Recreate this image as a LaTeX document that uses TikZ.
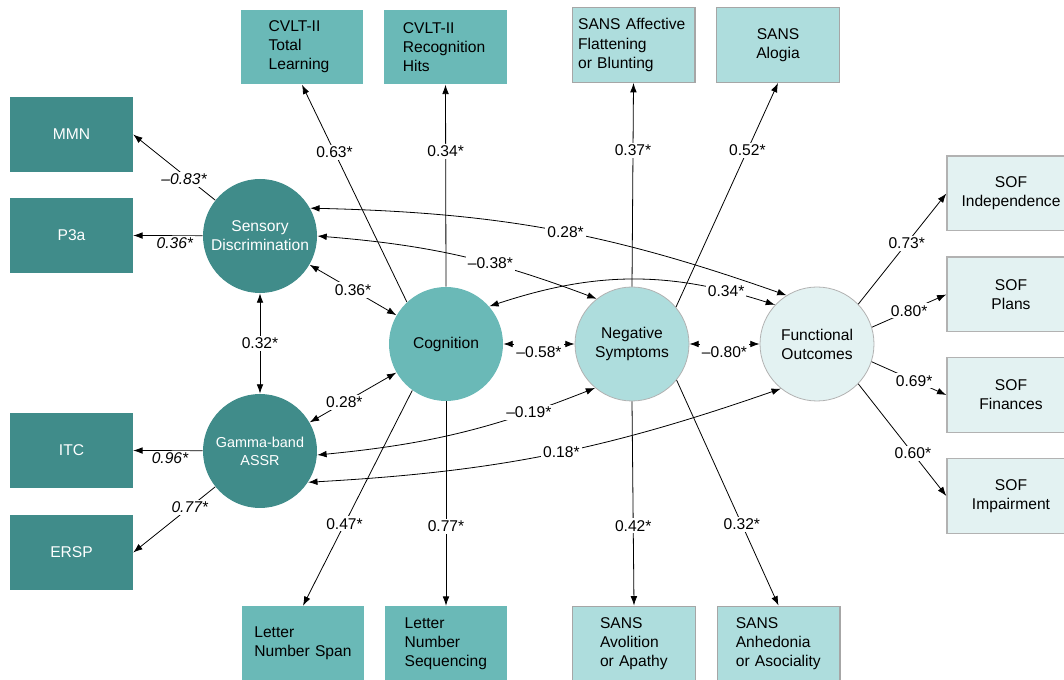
\documentclass[tikz,border=0pt]{standalone}
\usepackage{fontspec}
\setmainfont{Liberation Sans}
\usetikzlibrary{arrows.meta}

\definecolor{tealdark}{RGB}{64,140,138}
\definecolor{tealmid}{RGB}{106,185,183}
\definecolor{teallight}{RGB}{174,221,221}
\definecolor{tealpale}{RGB}{227,242,242}

\tikzset{
	txt/.style = {font = \fontsize{11.7}{14.3}\selectfont},
	box/.style = {txt, rectangle, minimum width = 92pt, minimum height = 56pt, inner sep = 0pt},
	boxdark/.style = {box, fill = tealdark, text = white},
	boxmid/.style = {box, fill = tealmid},
	boxlight/.style = {box, fill = teallight, draw = gray!70, line width = 1pt},
	boxpale/.style = {box, fill = tealpale, draw = gray!60, line width = 1pt, minimum width = 96pt},
	factor/.style = {txt, circle, minimum size = 85.5pt, inner sep = 0pt, align = center},
	lbl/.style = {txt, fill = white, inner sep = 1.5pt},
	lblit/.style = {lbl, font = \fontsize{11.7}{14.3}\selectfont\itshape}
}

\begin{document}
\begin{tikzpicture}[x = 0.75pt, y = -0.75pt, > = {Latex[length = 7pt, width = 5pt]}, line width = 0.6pt]

	\useasboundingbox (0, 0) rectangle (1064, 680);

	% Latent factors
	
	\node [factor, fill = tealdark, text = white] (sensory) at (260, 236) {Sensory\\Discrimination};
	\node [factor, fill = tealdark, text = white, font = \fontsize{10.8}{13.5}\selectfont] (gamma) at (260, 451) {Gamma-band\\ASSR};
	\node [factor, fill = tealmid] (cognition) at (446, 344) {Cognition};
	\node [factor, fill = teallight, draw = gray!60] (negative) at (632, 344) {Negative\\Symptoms};
	\node [factor, fill = tealpale, draw = gray!60] (functional) at (817, 344) {Functional\\Outcomes};
	
	% Indicators, left
	
	\node [boxdark] (mmn) at (71.5, 134.5) {MMN};
	\node [boxdark] (pthreea) at (71.5, 235.5) {P3a};
	\node [boxdark] (itc) at (71.5, 450.5) {ITC};
	\node [boxdark] (ersp) at (71.5, 552.5) {ERSP};
	
	% Indicators, top and bottom
	
	\node [boxmid, text width = 50pt, align = left] (cvltTL) at (302, 47) {CVLT-II\\Total\\Learning};
	\node [boxmid, text width = 64pt, align = left] (cvltRH) at (445.5, 47) {CVLT-II\\Recognition\\Hits};
	\node [boxlight, text width = 83pt, align = left] (sansAF) at (633.5, 45) {SANS Affective\\Flattening\\or Blunting};
	\node [boxlight, align = center] (sansAL) at (778, 45) {SANS\\Alogia};
	
	\node [boxmid, text width = 73pt, align = left] (lns) at (303, 643.5) {Letter\\Number Span};
	\node [boxmid, text width = 62pt, align = left] (lnsq) at (446, 643.5) {Letter\\Number\\Sequencing};
	\node [boxlight, text width = 51pt, align = left] (sansAV) at (634, 643.5) {SANS\\Avolition\\or Apathy};
	\node [boxlight, text width = 64pt, align = left] (sansAN) at (778.5, 643.5) {SANS\\Anhedonia\\or Asociality};
	
	% Indicators, right
	
	\node [boxpale, align = center] (sofInd) at (1011, 193.5) {SOF\\Independence};
	\node [boxpale, align = center] (sofPla) at (1011, 294.5) {SOF\\Plans};
	\node [boxpale, align = center] (sofFin) at (1011, 395) {SOF\\Finances};
	\node [boxpale, align = center] (sofImp) at (1011, 496) {SOF\\Impairment};
	
	% Loadings
	
	\draw [->] (sensory) -- node [lblit, pos = 0.38, yshift = -3pt] {–0.83*} (mmn.east);
	\draw [->] (sensory) -- node [lblit, pos = 0.4, below] {0.36*} (pthreea.east);
	\draw [->] (gamma) -- node [lblit, pos = 0.47, below] {0.96*} (itc.east);
	\draw [->] (gamma) -- node [lblit, pos = 0.31] {0.77*} (ersp.east);
	
	\draw [->] (cognition.133) -- node [lbl, pos = 0.69] {0.63*} (cvltTL.south);
	\draw [->] (cognition.north) -- node [lbl, pos = 0.67] {0.34*} (cvltRH.south);
	\draw [->] (negative.north) -- node [lbl, pos = 0.67] {0.37*} (sansAF.south);
	\draw [->] (negative.40) -- node [lbl, pos = 0.7] {0.52*} (sansAL.south);
	
	\draw [->] (cognition.234) -- node [lbl, pos = 0.62] {0.47*} (lns.north);
	\draw [->] (cognition.south) -- node [lbl, pos = 0.61] {0.77*} (lnsq.north);
	\draw [->] (negative.south) -- node [lbl, pos = 0.61] {0.42*} (sansAV.north);
	\draw [->] (negative.321) -- node [lbl, pos = 0.64] {0.32*} (sansAN.north);
	
	\draw [->] (functional.44) -- node [lbl, pos = 0.55] {0.73*} (sofInd.west);
	\draw [->] (functional.17) -- node [lbl, pos = 0.5] {0.80*} (sofPla.west);
	\draw [->] (functional.-18) -- node [lbl, pos = 0.57] {0.69*} (sofFin.west);
	\draw [->] (functional.-44) -- node [lbl, pos = 0.62] {0.60*} (sofImp.west);
	
	% Correlations between factors
	
	\draw [<->] (sensory) -- node [lbl] {0.32*} (gamma);
	\draw [<->] (sensory) -- node [lbl] {0.36*} (cognition);
	\draw [<->] (gamma) -- node [lbl, pos = 0.4] {0.28*} (cognition);
	\draw [<->] (cognition) -- node [lbl, below] {–0.58*} (negative);
	\draw [<->] (negative) -- node [lbl, below] {–0.80*} (functional);
	
	\draw [<->] (sensory.29) to [bend left = 9] node [lbl, pos = 0.53] {0.28*} (functional.122);
	\draw [<->] (sensory.east) to [bend left = 8] node [lbl, pos = 0.62] {–0.38*} (negative.128);
	\draw [<->] (cognition.41) to [bend left = 18] node [lbl, pos = 0.84] {0.34*} (functional.137);
	\draw [<->] (gamma.-4) to [bend right = 8] node [lbl, pos = 0.77] {–0.19*} (negative.230);
	\draw [<->] (gamma.-33) to [bend right = 8] node [lbl, pos = 0.53] {0.18*} (functional.231);

\end{tikzpicture}
\end{document}
